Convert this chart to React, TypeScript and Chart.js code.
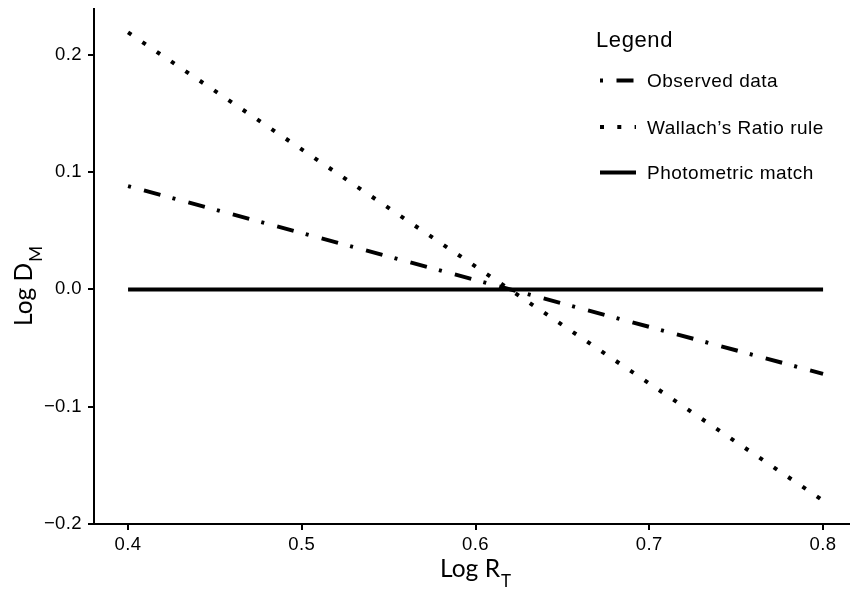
import React, { useEffect, useRef } from "react";
import { Chart, registerables } from "chart.js";

Chart.register(...registerables);

// ---- data ----
const xValues = [0.4, 0.8];
const observed = [0.088, -0.072];
const wallach = [0.219, -0.18];
const photometric = [0, 0];

const xTicks = [0.4, 0.5, 0.6, 0.7, 0.8];
const xTickLabels = ["0.4", "0.5", "0.6", "0.7", "0.8"];
const yTicks = [-0.2, -0.1, 0, 0.1, 0.2];
const yTickLabels = ["\u22120.2", "\u22120.1", "0.0", "0.1", "0.2"];

const seriesNames = ["Observed data", "Wallach\u2019s Ratio rule", "Photometric match"];
const legendTitle = "Legend";
const xTitle = ["Log R", "T"];
const yTitle = ["Log D", "M"];

const SANS = "'Liberation Sans', Arial, Helvetica, sans-serif";
const TITLE_FONT = "Lato, 'Open Sans', sans-serif";

const dashes: number[][] = [[3, 13.5, 17, 12.5], [4, 13.3], []];

const overlayPlugin = {
  id: "overlay",
  beforeDraw(chart: any) {
    const ctx = chart.ctx;
    (ctx as any).letterSpacing = "0.4px";
  },
  afterDraw(chart: any) {
    const ctx: CanvasRenderingContext2D = chart.ctx;
    const xs = chart.scales.x;
    ctx.save();
    ctx.fillStyle = "#000";
    ctx.textBaseline = "alphabetic";
    ctx.textAlign = "left";
    (ctx as any).letterSpacing = "0px";

    // x title
    ctx.font = `24.5px ${TITLE_FONT}`;
    const w1 = ctx.measureText(xTitle[0]).width;
    ctx.font = `17px ${TITLE_FONT}`;
    const w2 = ctx.measureText(xTitle[1]).width;
    const cx = xs.getPixelForValue(0.6);
    const sx = cx - (w1 + 1 + w2) / 2;
    ctx.font = `24.5px ${TITLE_FONT}`;
    ctx.fillText(xTitle[0], sx, 577);
    ctx.font = `17px ${TITLE_FONT}`;
    ctx.fillText(xTitle[1], sx + w1 + 1, 587);

    // y title
    ctx.save();
    ctx.translate(32, 326);
    ctx.rotate(-Math.PI / 2);
    ctx.font = `24.5px ${TITLE_FONT}`;
    const v1 = ctx.measureText(yTitle[0]).width;
    ctx.fillText(yTitle[0], 0, 0);
    ctx.font = `17px ${TITLE_FONT}`;
    ctx.fillText(yTitle[1], v1 + 1, 10);
    ctx.restore();

    // legend
    (ctx as any).letterSpacing = "0.6px";
    ctx.font = `22px ${SANS}`;
    ctx.fillText(legendTitle, 596, 46.5);
    (ctx as any).letterSpacing = "0.5px";
    ctx.font = `19px ${SANS}`;
    const rowY = [80.5, 127, 172.5];
    chart.data.datasets.forEach((ds: any, i: number) => {
      const y = rowY[i];
      ctx.save();
      ctx.strokeStyle = "#000";
      ctx.lineWidth = 4;
      ctx.lineCap = "butt";
      ctx.setLineDash(ds.borderDash || []);
      ctx.beginPath();
      ctx.moveTo(600, y);
      ctx.lineTo(636, y);
      ctx.stroke();
      ctx.restore();
      ctx.fillText(ds.label, 647, y + 6.5);
    });
    ctx.restore();
  },
};

function makePoints(ys: number[]) {
  return xValues.map((x, i) => ({ x, y: ys[i] }));
}

export default function App() {
  const ref = useRef<HTMLCanvasElement | null>(null);

  useEffect(() => {
    if (!ref.current) return;
    const seriesData = [observed, wallach, photometric];
    const chart = new Chart(ref.current, {
      type: "line",
      data: {
        datasets: seriesData.map((s, i) => ({
          label: seriesNames[i],
          data: makePoints(s),
          borderColor: "#000",
          borderWidth: 4,
          borderDash: dashes[i],
          borderCapStyle: "butt",
          pointRadius: 0,
          fill: false,
          tension: 0,
        })),
      },
      options: {
        animation: false,
        responsive: true,
        maintainAspectRatio: false,
        layout: { padding: { top: 9, right: 0, left: 0, bottom: 0 } },
        plugins: {
          legend: { display: false },
          tooltip: { enabled: false },
          title: { display: false },
        },
        scales: {
          x: {
            type: "linear",
            min: 0.3804,
            max: 0.8155,
            afterBuildTicks: (s: any) => {
              s.ticks = xTicks.map((v) => ({ value: v }));
            },
            afterFit: (s: any) => {
              s.height = 67;
              s.paddingLeft = 0;
              s.paddingRight = 0;
              s.paddingTop = 0;
              s.paddingBottom = 0;
            },
            ticks: {
              callback: (_v: any, i: number) => xTickLabels[i],
              font: { family: SANS, size: 18.5 },
              color: "#000",
              padding: 4,
              maxRotation: 0,
              autoSkip: false,
            },
            grid: {
              drawOnChartArea: false,
              drawTicks: true,
              tickLength: 6,
              lineWidth: 2,
              color: "#000",
            },
            border: { display: true, width: 2, color: "#000" },
          },
          y: {
            type: "linear",
            min: -0.2,
            max: 0.239,
            afterBuildTicks: (s: any) => {
              s.ticks = yTicks.map((v) => ({ value: v }));
            },
            afterFit: (s: any) => {
              s.width = 94;
              s.paddingLeft = 0;
              s.paddingRight = 0;
              s.paddingTop = 0;
              s.paddingBottom = 0;
            },
            ticks: {
              callback: (_v: any, i: number) => yTickLabels[i],
              font: { family: SANS, size: 18.5 },
              color: "#000",
              padding: 6,
              autoSkip: false,
            },
            grid: {
              drawOnChartArea: false,
              drawTicks: true,
              tickLength: 6,
              lineWidth: 2,
              color: "#000",
            },
            border: { display: true, width: 2, color: "#000" },
          },
        },
      },
      plugins: [overlayPlugin],
    } as any);
    return () => chart.destroy();
  }, []);

  return (
    <div
      style={{
        position: "absolute",
        left: 0,
        top: 0,
        width: 850,
        height: 591,
        background: "#fff",
      }}
    >
      <canvas ref={ref} />
    </div>
  );
}
